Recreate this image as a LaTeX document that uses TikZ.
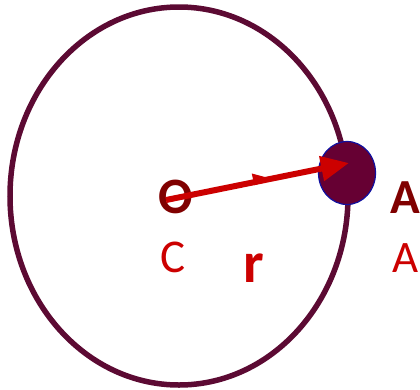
\documentclass[tikz,border=0pt]{standalone}
\usepackage{fontspec}
\setmainfont{Carlito}
\usepackage{tikz}
\usetikzlibrary{arrows.meta,shapes.geometric,decorations.markings,positioning}
\definecolor{orbit}{HTML}{5C0A33}
\definecolor{bobfill}{HTML}{660033}
\definecolor{bobedge}{HTML}{1010A0}
\definecolor{darkred}{HTML}{800000}
\definecolor{vecred}{HTML}{CC0000}

\begin{document}
\begin{tikzpicture}[x=1pt, y=-1pt,
    lbl/.style={inner sep=0pt, anchor=base},
    radvec/.style={draw=vecred, line width=6pt,
      -{Triangle[length=28pt, width=24pt]},
      postaction={decorate},
      decoration={markings, mark=at position 0.5 with
        {\fill[vecred] (-4pt,-3pt) -- (16pt,-1pt) -- (-4pt,9pt) -- cycle;}}}]
  \useasboundingbox (0,0) rectangle (420,389);

  % path of the body
  \draw[orbit, line width=5.5pt] (179,196) ellipse [x radius=169, y radius=189];

  % body at A
  \node[ellipse, draw=bobedge, line width=1.2pt, fill=bobfill,
        minimum width=57pt, minimum height=63pt, inner sep=0pt] (bob) at (347,173) {};

  \coordinate (ctr) at (166,200);
  \coordinate (tip) at (349,163);

  \node[lbl, text=darkred] (lo) at (176,213) {\fontsize{51}{55}\selectfont\bfseries O};
  \node[lbl, text=vecred] (lc) at (173,272) {\fontsize{47}{51}\selectfont C};
  \node[lbl, text=vecred] (lr) at (254,282) {\fontsize{58}{62}\selectfont\bfseries r};
  \node[lbl, text=darkred, anchor=base west] (la) at (390,213) {\fontsize{49}{53}\selectfont\bfseries A};
  \node[lbl, text=vecred, anchor=base west] (la2) at (392,272) {\fontsize{45}{49}\selectfont A};

  \draw[radvec] (ctr) -- (tip);
\end{tikzpicture}
\end{document}
